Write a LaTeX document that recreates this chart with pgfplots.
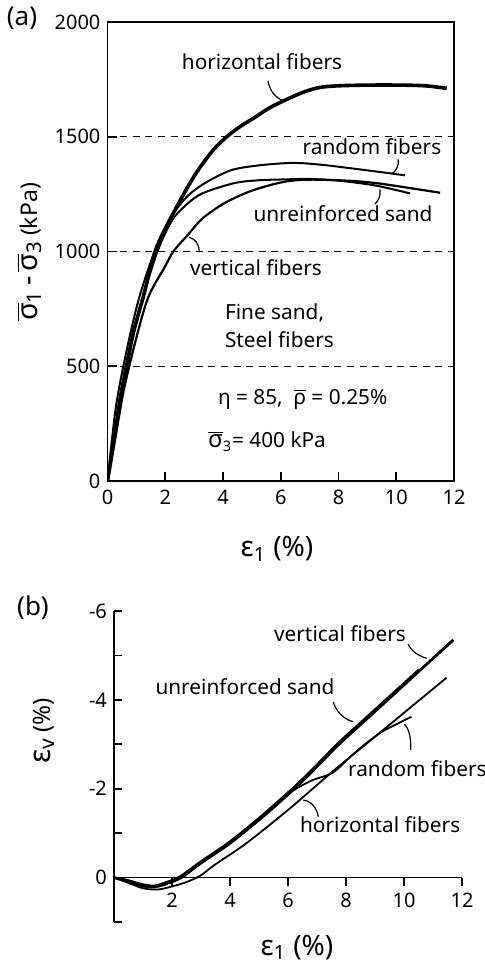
\documentclass[border=0pt]{standalone}
\usepackage{fontspec}
\setmainfont{Noto Sans}
\usepackage{pgfplots}
\pgfplotsset{compat=1.18}
\newcommand\ob[1]{$\overline{\mbox{#1}}$}
\begin{document}
\begin{tikzpicture}
\useasboundingbox (0,0) rectangle (242pt,482pt);
% ---------------- panel (a)
\begin{axis}[at={(53.75pt,241.5pt)}, anchor=south west, scale only axis,
  width=173.25pt, height=229.5pt,
  xmin=0, xmax=12, ymin=0, ymax=2000,
  xtick={0,2,...,12}, xticklabels={0,2,4,6,8,10,12},
  ytick={0,500,1000,1500,2000}, yticklabels={0,500,1000,1500,2000},
  tick align=inside, tick pos=left, major tick length=4.5pt,
  tick style={black, line width=0.8pt},
  axis line style={line width=0.9pt},
  ymajorgrids, major grid style={black, line width=0.5pt, dash pattern=on 3.5pt off 2.8pt},
  ticklabel style={font=\fontsize{10}{12}\selectfont},
  xticklabel style={yshift=-1pt},
]
\addplot[black, line width=1.8pt, smooth, tension=0.5] coordinates {
(0,0) (0.4,300) (0.84,614) (1.24,803) (1.65,1000) (2.0,1100) (2.34,1181) (2.75,1275)
(3.14,1355) (3.66,1442) (4.13,1500) (4.6,1545) (5.05,1580) (5.6,1625) (6.21,1663)
(6.8,1695) (7.36,1715) (8.0,1722) (9.0,1725) (10.13,1725) (11.0,1722) (11.75,1711)};
\addplot[black, line width=1pt, smooth, tension=0.5] coordinates {
(0,0) (0.3,330) (0.7,590) (1.1,800) (1.6,990) (2.0,1100) (2.3,1170) (2.8,1245)
(3.4,1300) (4.3,1355) (5.3,1376) (6.43,1386) (7.4,1378) (8.4,1363) (9.4,1347) (10.3,1332)};
\addplot[black, line width=1pt, smooth, tension=0.5] coordinates {
(0,0) (0.4,350) (0.8,600) (1.2,790) (1.7,990) (2.1,1105) (2.45,1170) (3.2,1248)
(4.36,1297) (5.2,1310) (6.09,1314) (7.0,1316) (8.05,1308) (9.3,1287) (10.48,1253)};
\addplot[black, line width=1.1pt, smooth, tension=0.5] coordinates {
(0,0) (0.45,330) (0.95,600) (1.41,800) (1.99,934) (2.28,1000) (2.8,1075) (3.3,1145)
(4.07,1212) (5.0,1265) (6.09,1303) (7.0,1313) (8.4,1308) (9.3,1298) (10.13,1283) (11.52,1256)};
\end{axis}
% ---------------- panel (b)
\begin{axis}[at={(57pt,21pt)}, anchor=south west, scale only axis,
  width=174pt, height=155.5pt,
  xmin=0, xmax=12, ymin=-6, ymax=1, y dir=reverse,
  axis x line=middle, axis y line=left,
  axis line style={-, line width=0.9pt},
  xtick={2,4,...,12}, xticklabels={2,4,6,8,10,12},
  ytick={-6,-5,...,1}, yticklabels={-6,,-4,,-2,,0,},
  tick align=inside, major tick length=4pt,
  tick style={black, line width=0.8pt},
  ticklabel style={font=\fontsize{10}{12}\selectfont},
  xticklabel style={yshift=-4pt},
]
\addplot[black, line width=1.4pt, smooth, tension=0.5] coordinates {
(0,0) (0.5,0.08) (1.0,0.18) (1.4,0.2) (1.8,0.13) (2.3,0) (3.0,-0.33) (4.0,-0.78)
(5.15,-1.38) (6.3,-2.05) (7.0,-2.5) (7.79,-3.02) (9.0,-3.74) (10.44,-4.6) (11.7,-5.35)};
\addplot[black, line width=0.9pt, smooth, tension=0.5] coordinates {
(0,0) (0.5,0.06) (1.0,0.15) (1.4,0.18) (1.8,0.1) (2.25,-0.02) (3.0,-0.37) (4.0,-0.82)
(5.15,-1.43) (6.3,-2.1) (7.0,-2.55) (7.79,-3.07) (9.0,-3.79) (10.5,-4.68)};
\addplot[black, line width=0.9pt, smooth, tension=0.5] coordinates {
(0,0) (0.5,0.1) (1.0,0.2) (1.4,0.22) (1.8,0.15) (2.35,0) (3.0,-0.32) (4.0,-0.76)
(5.0,-1.3) (6.0,-1.88) (6.8,-2.18) (7.54,-2.36) (8.2,-2.75) (8.71,-3.03) (9.29,-3.3) (10.26,-3.62)};
\addplot[black, line width=0.9pt, smooth, tension=0.5] coordinates {
(0,0) (0.5,0.12) (1.0,0.24) (1.5,0.27) (2.0,0.2) (2.5,0.1) (2.97,-0.04) (3.5,-0.3)
(4.58,-0.78) (6.07,-1.56) (7.56,-2.4) (9.0,-3.17) (10.3,-3.87) (11.47,-4.5)};
\end{axis}
% ---------------- annotations in pixel coordinates
\begin{scope}[x=0.5pt, y=-0.5pt, shift={(0pt,482pt)}]
\def\ann{\fontsize{10.4}{12}\selectfont}
\node[font=\fontsize{13}{15}\selectfont] at (22,18) {(a)};
\node[font=\fontsize{13}{15}\selectfont] at (33,608) {(b)};
% axis labels
\node[rotate=90, anchor=base] at (37,252) {{\fontsize{14.5}{17}\selectfont \ob{σ}\textsubscript{1}\,-\,\ob{σ}\textsubscript{3}} {\fontsize{11.5}{14}\selectfont (kPa)}};
\node[anchor=base, font=\fontsize{14}{16}\selectfont] at (277,557) {ε\textsubscript{1} (\%)};
\node[anchor=base, font=\fontsize{14}{16}\selectfont] at (297,955) {ε\textsubscript{1} (\%)};
\node[rotate=90, anchor=base] at (50,731) {{\fontsize{15}{17}\selectfont ε\textsubscript{v}} {\fontsize{12}{14}\selectfont (\%)}};
% panel (a) texts
\node[anchor=base, font=\ann] at (262,70) {horizontal fibers};
\node[anchor=base, font=\ann] at (372,155) {random fibers};
\node[anchor=base, font=\ann] at (343,222) {unreinforced sand};
\node[anchor=base, font=\ann] at (256,276) {vertical fibers};
\node[anchor=base west, font=\ann] at (218,320) {Fine sand,};
\node[anchor=base west, font=\ann] at (218,348) {Steel fibers};
\node[anchor=base west, font=\ann] at (211,405) {η = 85,\ \ \ob{ρ} = 0.25\%};
\node[anchor=base west, font=\ann] at (201,448) {{\fontsize{12}{14}\selectfont\ob{σ}}\textsubscript{3}= 400 kPa};
\draw[line width=0.6pt] (268,81) .. controls (270,92) and (276,98) .. (284,101);
\draw[line width=0.6pt] (398.3,159.3) .. controls (399,166) and (396,171) .. (391.7,174);
\draw[line width=0.6pt] (380,189.3) .. controls (381,196) and (378,201) .. (375,204);
\draw[line width=0.6pt] (189.3,237.3) .. controls (195,239) and (199,244) .. (199.3,250.7);
% panel (b) texts
\node[anchor=base, font=\ann] at (340,642) {vertical fibers};
\node[anchor=base, font=\ann] at (245,695) {unreinforced sand};
\node[anchor=base west, font=\ann] at (341,777) {random fibers};
\node[anchor=base west, font=\ann] at (293,833) {horizontal fibers};
\draw[line width=0.6pt] (408.3,644) .. controls (410,650) and (418,656) .. (426.7,658.3);
\draw[line width=0.6pt] (333.3,702) .. controls (336,712) and (345,720) .. (353.3,721.7);
\draw[line width=0.6pt] (404.3,724) .. controls (410,730) and (411,740) .. (410.7,750);
\draw[line width=0.6pt] (303.3,800) .. controls (311,801) and (317,808) .. (318.3,816.7);
\end{scope}
\end{tikzpicture}
\end{document}
